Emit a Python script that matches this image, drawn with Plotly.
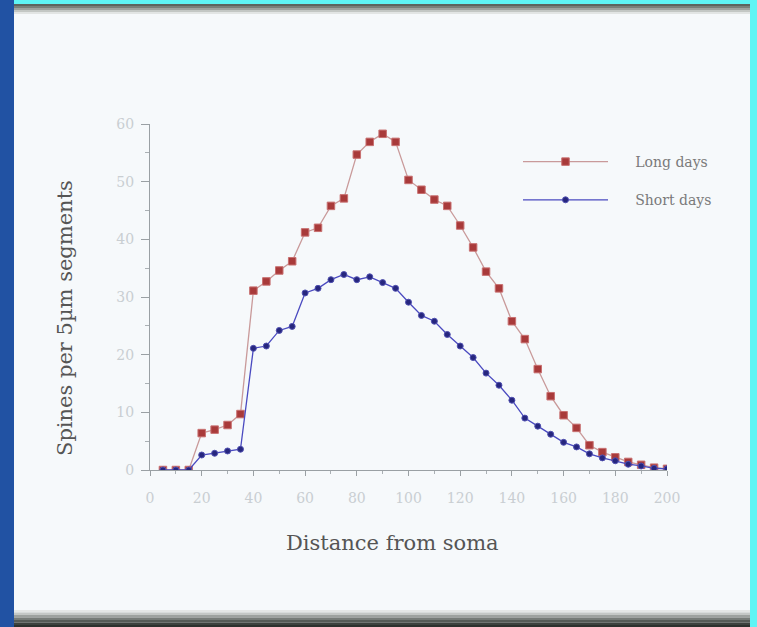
import plotly.graph_objects as go

distance = [5, 10, 15, 20, 25, 30, 35, 40, 45, 50, 55, 60, 65, 70, 75, 80, 85, 90, 95, 100,
            105, 110, 115, 120, 125, 130, 135, 140, 145, 150, 155, 160, 165, 170, 175, 180,
            185, 190, 195, 200]
long_days = [0, 0, 0, 6.4, 7.0, 7.8, 9.7, 31.1, 32.7, 34.6, 36.2, 41.2, 42.0, 45.8, 47.1,
             54.7, 56.9, 58.3, 56.9, 50.3, 48.6, 46.9, 45.8, 42.4, 38.6, 34.4, 31.5, 25.8,
             22.7, 17.5, 12.8, 9.5, 7.3, 4.3, 3.1, 2.2, 1.4, 0.9, 0.4, 0.2]
short_days = [0, 0, 0, 2.6, 2.9, 3.3, 3.6, 21.1, 21.5, 24.2, 24.9, 30.7, 31.5, 33.0, 33.9,
              33.0, 33.5, 32.5, 31.5, 29.1, 26.8, 25.8, 23.5, 21.5, 19.5, 16.8, 14.7, 12.1,
              9.0, 7.6, 6.2, 4.8, 4.0, 2.8, 2.1, 1.6, 1.0, 0.7, 0.3, 0.2]
x_ticks = [0, 20, 40, 60, 80, 100, 120, 140, 160, 180, 200]
y_ticks = [0, 10, 20, 30, 40, 50, 60]
x_title = "Distance from soma"
y_title = "Spines per 5µm segments"

W, H = 757, 627
L, R, T, B = 150, 667, 124, 470
SERIF = "DejaVu Serif"


def px(x):
    return (x - L) / (R - L)


def py(y):
    return (B - y) / (B - T)


NB = "\u00a0" * 5

fig = go.Figure()
fig.add_trace(go.Scatter(
    x=distance, y=long_days, name=NB + "Long days", mode="lines+markers",
    legendgroup="long",
    line=dict(color="#c99a9a", width=1.3),
    marker=dict(symbol="square", size=7.5, color="#a83a3a",
                line=dict(color="#c87070", width=1)),
))
fig.add_trace(go.Scatter(
    x=distance, y=short_days, name=NB + "Short days", mode="lines+markers",
    legendgroup="short",
    line=dict(color="#4a4ac0", width=1.3),
    marker=dict(symbol="circle", size=6, color="#26267e",
                line=dict(color="#5050b0", width=1)),
))

shapes = []
shapes.append(dict(type="rect", xref="paper", yref="paper", x0=px(0), x1=px(14),
                   y0=py(627), y1=py(0), fillcolor="#2152a3", line_width=0, layer="below"))
top_cols = ["#5d655f", "#7a817b", "#9ea39f", "#c3c7c4", "#e2e5e4"]
for i, c in enumerate(top_cols):
    shapes.append(dict(type="rect", xref="paper", yref="paper", x0=px(14), x1=px(750),
                       y0=py(4 + 2 * (i + 1)), y1=py(4 + 2 * i), fillcolor=c,
                       line_width=0, layer="below"))
bot_cols = ["#e4e7e6", "#c4c8c6", "#9da29f", "#767c78", "#555b57", "#3c423e", "#2c312e"]
for i, c in enumerate(bot_cols):
    shapes.append(dict(type="rect", xref="paper", yref="paper", x0=px(14), x1=px(750),
                       y0=py(610 + 2.5 * (i + 1)), y1=py(610 + 2.5 * i), fillcolor=c,
                       line_width=0, layer="below"))
shapes.append(dict(type="rect", xref="paper", yref="paper", x0=px(14), x1=px(750),
                   y0=py(4), y1=py(0), fillcolor="#5ff5f5", line_width=0, layer="below"))
shapes.append(dict(type="rect", xref="paper", yref="paper", x0=px(750), x1=px(757),
                   y0=py(627), y1=py(0), fillcolor="#5ff5f5", line_width=0, layer="below"))

annotations = [
    dict(text=x_title, xref="paper", yref="paper", x=px(392), y=py(543),
         xanchor="center", yanchor="middle", showarrow=False,
         font=dict(family=SERIF, size=21, color="#555")),
    dict(text=y_title, xref="paper", yref="paper", x=px(65), y=py(318),
         xanchor="center", yanchor="middle", showarrow=False, textangle=-90,
         font=dict(family=SERIF, size=21, color="#555")),
]

fig.update_layout(
    width=W, height=H,
    margin=dict(l=L, r=W - R, t=T, b=H - B, pad=0),
    paper_bgcolor="#f6f9fb", plot_bgcolor="rgba(0,0,0,0)",
    font=dict(family=SERIF, color="#666"),
    shapes=shapes,
    annotations=annotations,
    showlegend=True,
    legend=dict(x=px(518), y=py(146), xanchor="left", yanchor="top",
                bgcolor="rgba(0,0,0,0)", font=dict(family=SERIF, size=14, color="#7a7a7a"),
                itemwidth=85, traceorder="grouped", tracegroupgap=17),
    xaxis=dict(range=[0, 200], tickvals=x_ticks, ticktext=[str(v) for v in x_ticks],
               showgrid=False, zeroline=False, showline=True, linecolor="#9aa0a4", linewidth=1,
               ticks="outside", ticklen=5, tickcolor="#9aa0a4",
               minor=dict(dtick=10, ticks="outside", ticklen=3, tickcolor="#aab0b4"),
               tickfont=dict(size=14, color="#c9ced2"), ticklabelstandoff=10),
    yaxis=dict(range=[0, 60], tickvals=y_ticks, ticktext=[str(v) for v in y_ticks],
               showgrid=False, zeroline=False, showline=True, linecolor="#9aa0a4", linewidth=1,
               ticks="outside", ticklen=8, tickcolor="#9aa0a4",
               minor=dict(dtick=5, ticks="outside", ticklen=4, tickcolor="#aab0b4"),
               tickfont=dict(size=14, color="#c9ced2"), ticklabelstandoff=4),
)

fig.write_html("out.html")
